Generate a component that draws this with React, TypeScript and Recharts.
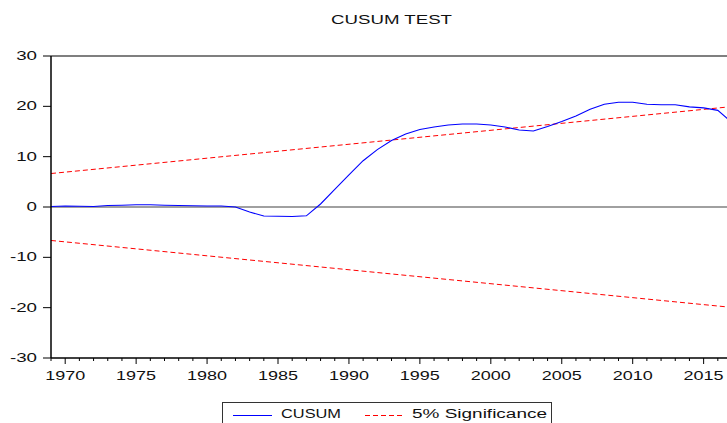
import { Legend, Line, LineChart, ReferenceLine, XAxis, YAxis } from "recharts";

const years = [
  1969, 1970, 1971, 1972, 1973, 1974, 1975, 1976, 1977, 1978, 1979, 1980, 1981, 1982, 1983, 1984, 1985,
  1986, 1987, 1988, 1989, 1990, 1991, 1992, 1993, 1994, 1995, 1996, 1997, 1998, 1999, 2000, 2001, 2002,
  2003, 2004, 2005, 2006, 2007, 2008, 2009, 2010, 2011, 2012, 2013, 2014, 2015, 2016, 2017,
];
const cusum = [
  0.1, 0.2, 0.15, 0.1, 0.3, 0.35, 0.45, 0.45, 0.35, 0.3, 0.25, 0.2, 0.2, 0.0, -1.0, -1.8, -1.85, -1.9,
  -1.75, 0.6, 3.5, 6.4, 9.2, 11.4, 13.2, 14.5, 15.4, 15.9, 16.3, 16.5, 16.5, 16.3, 15.9, 15.3, 15.1, 16.0,
  17.0, 18.1, 19.4, 20.4, 20.8, 20.8, 20.4, 20.3, 20.3, 19.9, 19.7, 19.2, 16.8,
];
const sigYears = [1969, 2017];
const upper = [6.65, 19.95];
const lower = [-6.65, -19.95];
const yTicks = [-30, -20, -10, 0, 10, 20, 30];
const majorYears = [1970, 1975, 1980, 1985, 1990, 1995, 2000, 2005, 2010, 2015];

const FONT = "'Liberation Sans', Arial, sans-serif";

const data = years.map((year, i) => ({ year, cusum: cusum[i] }));
const sigData = sigYears.map((year, i) => ({ year, upper: upper[i], lower: lower[i] }));

function XTick({ x, y, payload }: any) {
  const major = majorYears.includes(payload.value);
  return (
    <g>
      <line x1={x} x2={x} y1={y} y2={y + (major ? 6 : 3)} stroke="#000" />
      {major && (
        <text
          transform={`translate(${x},${y + 22}) scale(1.5,1)`}
          textAnchor="middle"
          fontFamily={FONT}
          fontSize={12}
          fill="#111"
        >
          {payload.value}
        </text>
      )}
    </g>
  );
}

function YTick({ x, y, payload }: any) {
  return (
    <text
      transform={`translate(${x},${y + 4}) scale(1.5,1)`}
      textAnchor="end"
      fontFamily={FONT}
      fontSize={12.5}
      fill="#111"
    >
      {payload.value}
    </text>
  );
}

function LegendBox() {
  return (
    <svg width={331} height={24} style={{ display: "block" }}>
      <rect x={0.5} y={0.5} width={329} height={30} fill="#fff" stroke="#333" />
      <line x1={11} x2={50} y1={13.5} y2={13.5} stroke="#0000ff" />
      <text x={59} y={15.5} fontFamily={FONT} fontSize={12.5} fill="#111" textLength={60} lengthAdjust="spacingAndGlyphs">
        CUSUM
      </text>
      <line x1={143} x2={182} y1={13.5} y2={13.5} stroke="#ff0000" strokeDasharray="5 3" />
      <text x={190} y={15.5} fontFamily={FONT} fontSize={12.5} fill="#111" textLength={135} lengthAdjust="spacingAndGlyphs">
        5% Significance
      </text>
    </svg>
  );
}

export default function App() {
  return (
    <div style={{ position: "absolute", left: 0, top: 0, width: 727, height: 423, overflow: "hidden", background: "#fff" }}>
      <svg width={727} height={30} style={{ position: "absolute", left: 0, top: 0 }}>
        <text x={331} y={24} fontFamily={FONT} fontSize={12.5} fill="#111" textLength={121} lengthAdjust="spacingAndGlyphs">
          CUSUM TEST
        </text>
      </svg>
      <LineChart width={745} height={423} data={data} margin={{ top: 56, right: 13, bottom: 35, left: 0 }}>
        <XAxis
          dataKey="year"
          type="number"
          domain={[1969, 2017]}
          ticks={years}
          interval={0}
          tickSize={0}
          tickMargin={0}
          tickLine={false}
          tick={<XTick />}
          axisLine={{ stroke: "#000", strokeWidth: 1.5 }}
          height={30}
        />
        <YAxis
          type="number"
          domain={[-30, 30]}
          ticks={yTicks}
          interval={0}
          width={51}
          tickSize={8}
          tickMargin={6}
          tickLine={{ stroke: "#000" }}
          tick={<YTick />}
          axisLine={{ stroke: "#000", strokeWidth: 1.5 }}
        />
        <ReferenceLine y={30} stroke="#555" strokeWidth={1.5} />
        <ReferenceLine y={0} stroke="#808080" strokeWidth={1.5} />
        <Line
          data={sigData}
          dataKey="upper"
          type="linear"
          stroke="#ff0000"
          strokeDasharray="5 3"
          dot={false}
          isAnimationActive={false}
          name="5% Significance"
        />
        <Line
          data={sigData}
          dataKey="lower"
          type="linear"
          stroke="#ff0000"
          strokeDasharray="5 3"
          dot={false}
          isAnimationActive={false}
          legendType="none"
        />
        <Line
          dataKey="cusum"
          type="linear"
          stroke="#0000ff"
          strokeWidth={1.1}
          dot={false}
          isAnimationActive={false}
          name="CUSUM"
        />
        <Legend
          layout="vertical"
          align="center"
          verticalAlign="middle"
          wrapperStyle={{ position: "absolute", left: 222, top: 402, width: 331 }}
          content={() => <LegendBox />}
        />
      </LineChart>
    </div>
  );
}
